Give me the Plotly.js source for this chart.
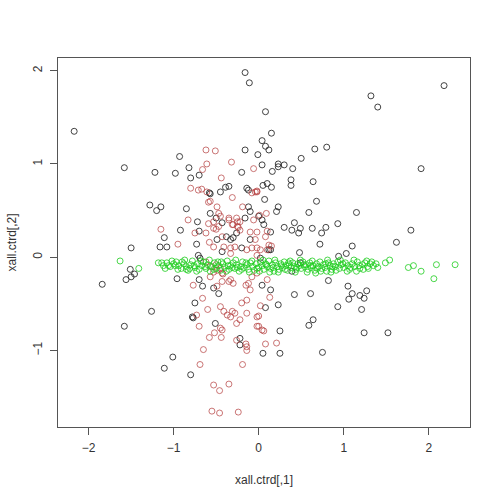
<!DOCTYPE html>
<html>
<head>
<meta charset="utf-8">
<script src="https://cdn.plot.ly/plotly-3.0.1.min.js"></script>
<style>html,body{margin:0;padding:0;background:#fff;}#chart{width:500px;height:500px;}</style>
</head>
<body>
<div id="chart"></div>
<script>
var blackX = [-2.17,-0.16,-0.11,-1.58,-1.22,-0.98,-0.93,-0.82,-0.80,-0.70,-0.16,-0.20,-1.28,-1.20,-1.15,-0.85,-0.57,-0.45,-0.39,-0.35,-0.14,-0.57,-0.50,-0.43,-0.16,-0.12,-0.72,-0.92,-1.11,-1.16,-1.08,-0.73,-0.70,-1.50,-0.38,-0.33,-0.30,-0.26,-0.49,-0.20,-0.43,-0.58,
  2.18,1.32,1.40,0.08,0.15,0.04,0.08,0.12,-0.01,0.66,0.80,0.50,0.04,0.23,0.23,0.30,0.40,0.16,1.91,0.38,0.38,0.64,0.05,0.10,0.15,0.07,0.68,0.23,0.21,0.59,1.15,-0.10,0.04,0.06,0.42,0.30,0.39,0.47,0.49,0.63,0.74,0.79,0.93,0.72,1.10,1.62,1.79,0.14,0.14,0.48,0.94,1.03,-0.12,0.00,-0.10,0.12,
  -1.84,-1.51,-1.56,-1.50,-1.46,-1.26,-1.58,-1.01,-1.11,-0.80,-0.96,-0.70,-0.66,-0.75,-0.77,-0.53,-0.47,-0.51,-0.22,-0.22,-0.69,-0.71,0.82,0.42,0.61,1.05,1.10,1.27,1.19,1.24,1.06,0.93,1.21,0.64,0.59,1.24,1.52,0.75,0.25,0.05,0.25,0.23,0.08,0.14,0.04,0.39,0.49,0.02,-0.78];
var blackY = [1.35,1.98,1.87,0.96,0.91,0.90,1.08,0.96,0.85,0.88,1.15,0.91,0.56,0.50,0.54,0.52,0.68,0.70,0.75,0.76,0.74,0.47,0.42,0.37,0.42,0.54,0.38,0.29,0.21,0.11,0.11,0.14,0.28,0.10,0.22,0.19,0.21,0.26,0.19,0.10,0.06,0.69,
  1.84,1.73,1.61,1.56,1.33,1.25,1.19,1.15,1.10,1.16,1.18,1.06,0.99,1.00,0.97,0.99,0.95,0.92,0.95,0.83,0.77,0.81,0.77,0.79,0.75,0.62,0.60,0.54,0.49,0.48,0.48,0.49,0.40,0.35,0.37,0.32,0.29,0.26,0.31,0.31,0.26,0.32,0.36,0.14,0.12,0.16,0.29,0.27,0.08,0.05,0.01,0.04,0.72,0.44,0.19,0.08,
  -0.29,-0.13,-0.24,-0.21,-0.18,-0.58,-0.74,-1.07,-1.19,-1.26,-0.23,-0.24,-0.31,-0.49,-0.65,-0.33,-0.39,-0.71,-0.87,-0.94,-0.01,0.02,-0.25,-0.40,-0.39,-0.31,-0.39,-0.36,-0.41,-0.44,-0.45,-0.53,-0.56,-0.67,-0.73,-0.81,-0.81,-1.02,-0.79,-1.03,-1.03,-0.51,-0.54,-0.35,-0.30,-0.15,-0.06,-0.01,-0.64];

var redX = [-0.62,-0.51,-0.61,-0.32,-0.66,-0.44,-0.80,-0.71,-0.67,-0.61,-0.31,-0.59,-0.49,-0.47,-0.19,-0.83,-0.59,-0.53,-0.47,-0.35,-0.31,-0.25,-1.15,-0.75,-0.62,-0.53,-0.25,-0.95,-0.58,-0.53,-0.41,-0.28,-0.14,-0.33,-0.10,-0.06,-0.04,-0.08,-0.02,-0.06,0.01,0.09,-0.02,0.08,0.10,-0.04,-0.02,0.02,0.12,0.15,0.10,-0.57,-0.45,-0.35,-0.26,-0.22,-0.30,-0.24,-0.50,-0.43,-0.22,-0.33,-0.08,-0.02,-0.02,
  -0.77,-0.66,-0.60,-0.70,-0.58,-0.52,-0.44,-0.65,-0.69,-0.19,-0.53,-0.46,-0.35,-0.55,-0.46,-0.24,-0.45,-0.41,-0.37,-0.33,-0.31,-0.28,-0.22,-0.14,-0.45,-0.26,-0.14,-0.57,-0.49,-0.43,-0.33,-0.30,-0.12,-0.14,-0.73,-0.43,-0.26,-0.15,-0.10,-0.20,-0.15,-0.14,-0.02,-0.02,-0.43,-0.35,-0.49,0.10,0.13,0.02,0.00,0.00,0.04,0.06,0.08,0.21,-0.08,-0.02,-0.57,-0.53,-0.50,-0.45,-0.42,-0.62];
var redY = [1.15,1.14,1.00,1.02,0.94,0.85,0.74,0.72,0.73,0.70,0.64,0.59,0.54,0.47,0.54,0.40,0.36,0.38,0.33,0.40,0.35,0.38,0.30,0.26,0.26,0.31,0.33,0.14,0.16,0.11,0.11,0.11,0.08,0.04,0.27,0.95,0.70,0.69,0.70,0.40,0.45,0.47,0.27,0.22,0.28,0.19,0.10,0.08,0.13,0.12,0.08,0.60,0.44,0.42,0.42,0.38,0.35,0.32,0.30,0.22,0.29,0.10,0.10,0.02,0.71,
  -0.30,-0.44,-0.56,-0.74,-0.86,-0.81,-0.86,-0.99,-1.15,-1.15,-1.37,-1.43,-1.36,-1.65,-1.67,-1.66,-0.53,-0.58,-0.62,-0.64,-0.58,-0.60,-0.67,-0.60,-0.76,-0.89,-0.96,-0.21,-0.14,-0.17,-0.24,-0.28,-0.28,-0.46,-0.62,-0.78,-0.71,-0.30,-0.35,-0.49,-0.93,-1.00,-0.64,-0.74,-0.26,-0.26,-0.31,-0.24,-0.43,-0.52,-0.63,-0.74,-0.78,-0.79,-0.93,-0.92,-0.21,-0.17,-0.10,-0.16,-0.08,-0.12,-0.18,-0.05];

var greenX = [-1.63,-1.41,-1.18,-1.12,-1.08,-1.04,-1.00,-0.97,-0.94,-0.91,-0.88,-0.85,-0.83,-0.80,-0.78,-0.75,-0.72,-0.70,-0.67,-0.65,-0.62,-0.60,-0.57,-0.55,-0.52,-0.50,-0.47,-0.45,-0.42,-0.40,-0.37,-0.35,-0.33,-0.30,-0.28,-0.26,-0.23,-0.21,-0.19,-0.17,-0.14,-0.12,-0.10,-0.07,-0.05,-0.03,0.00,0.02,0.04,0.06,0.08,0.10,0.12,0.14,0.16,0.18,0.20,0.22,0.24,0.26,0.28,0.30,0.32,0.34,0.36,0.38,0.40,0.42,0.44,0.46,0.48,0.50,0.52,0.54,0.56,0.58,0.60,0.62,0.64,0.66,0.68,0.70,0.72,0.74,0.76,0.78,0.80,0.82,0.84,0.86,0.88,0.90,0.93,0.95,0.97,1.00,1.02,1.05,1.07,1.10,1.13,1.16,1.19,1.22,1.25,1.28,1.31,1.35,1.49,1.54,1.76,1.82,1.91,2.09,2.06,2.31,
  -0.98,-0.90,-0.76,-0.63,-0.48,-0.36,-0.25,-0.15,-0.02,0.09,0.17,0.27,0.35,0.45,0.53,0.61,0.69,0.79,0.87,0.99,1.08,1.18,1.29,1.33,-1.14,-1.06,-0.85,
  -1.10,-1.02,-0.95,-0.87,-0.81,-0.73,-0.68,-0.58,-0.53,-0.44,-0.38,-0.31,-0.27,-0.20,-0.11,-0.08,0.01,0.05,0.13,0.19,0.23,0.31,0.37,0.43,0.49,0.57,0.63,0.67,0.73,0.81,0.85,0.91,0.96,1.04,1.12,1.15,1.23,1.27,1.38,1.40];
var greenY = [-0.04,-0.12,-0.06,-0.09,-0.06,-0.10,-0.07,-0.05,-0.09,-0.12,-0.07,-0.10,-0.14,-0.08,-0.04,-0.11,-0.07,-0.13,-0.09,-0.05,-0.12,-0.08,-0.15,-0.10,-0.06,-0.12,-0.09,-0.14,-0.07,-0.11,-0.04,-0.13,-0.09,-0.06,-0.12,-0.08,-0.15,-0.10,-0.05,-0.11,-0.08,-0.13,-0.06,-0.10,-0.14,-0.07,-0.11,-0.05,-0.09,-0.13,-0.07,-0.10,-0.04,-0.12,-0.08,-0.15,-0.06,-0.10,-0.13,-0.07,-0.11,-0.05,-0.09,-0.14,-0.08,-0.11,-0.06,-0.10,-0.13,-0.07,-0.09,-0.12,-0.05,-0.10,-0.08,-0.13,-0.06,-0.11,-0.09,-0.14,-0.07,-0.10,-0.05,-0.12,-0.08,-0.11,-0.15,-0.06,-0.09,-0.13,-0.07,-0.10,-0.05,-0.12,-0.08,-0.11,-0.06,-0.09,-0.13,-0.07,-0.10,-0.05,-0.12,-0.08,-0.06,-0.10,-0.07,-0.09,-0.06,-0.03,-0.11,-0.09,-0.15,-0.08,-0.23,-0.08,
  -0.09,-0.05,-0.09,-0.10,-0.05,-0.09,-0.11,-0.06,-0.12,-0.08,-0.11,-0.09,-0.06,-0.11,-0.08,-0.09,-0.12,-0.07,-0.10,-0.07,-0.11,-0.09,-0.12,-0.05,-0.06,-0.09,-0.13,
  -0.12,-0.04,-0.13,-0.03,-0.12,-0.15,-0.04,-0.03,-0.13,-0.05,-0.15,-0.11,-0.03,-0.13,-0.16,-0.04,-0.15,-0.03,-0.16,-0.03,-0.16,-0.13,-0.04,-0.16,-0.03,-0.16,-0.04,-0.17,-0.15,-0.03,-0.16,-0.14,-0.03,-0.15,-0.03,-0.15,-0.13,-0.04,-0.07,-0.11];

var xTickVals = [-2,-1,0,1,2];
var yTickVals = [-1,0,1,2];
var xTitle = "xall.ctrd[,1]";
var yTitle = "xall.ctrd[,2]";

function pts(x, y, col) {
  return {x: x, y: y, type: 'scatter', mode: 'markers', hoverinfo: 'skip',
    marker: {symbol: 'circle-open', size: 6, color: col, line: {width: 1, color: col}}};
}
var data = [
  pts(blackX, blackY, 'rgba(35,35,35,0.85)'),
  pts(redX, redY, 'rgba(180,60,60,0.7)'),
  pts(greenX, greenY, 'rgba(30,205,30,0.8)')
];
var axFont = {family: 'Liberation Sans, Arial, sans-serif', size: 12, color: '#333'};
var layout = {
  width: 500, height: 500, showlegend: false,
  paper_bgcolor: '#fff', plot_bgcolor: '#fff',
  margin: {l: 58, r: 30, t: 58, b: 73},
  xaxis: {range: [-2.36, 2.485], tickvals: xTickVals, ticks: 'outside', ticklen: 7, tickcolor: '#555',
    ticklabelstandoff: 3,
    showgrid: false, zeroline: false, showline: true, mirror: true, linecolor: '#555', linewidth: 1,
    tickfont: axFont, title: {text: xTitle, font: axFont, standoff: 21}},
  yaxis: {range: [-1.82, 2.136], tickvals: yTickVals, ticks: 'outside', ticklen: 7, tickcolor: '#555',
    ticklabelstandoff: 3,
    showgrid: false, zeroline: false, showline: true, mirror: true, linecolor: '#555', linewidth: 1,
    tickangle: -90, tickfont: axFont, title: {text: yTitle, font: axFont, standoff: 12}}
};
Plotly.newPlot('chart', data, layout, {displayModeBar: false, staticPlot: true});
</script>
</body>
</html>
